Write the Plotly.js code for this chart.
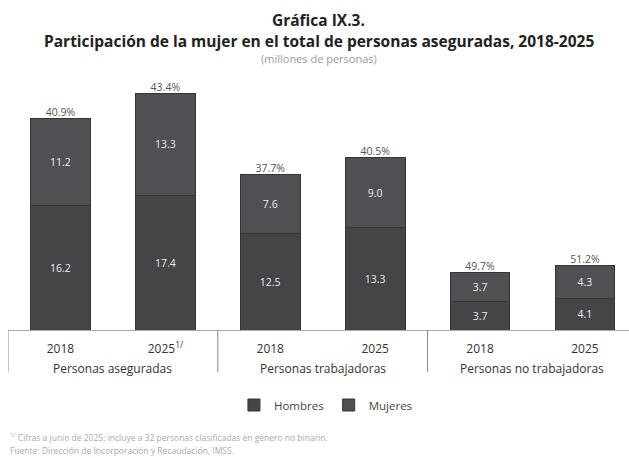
<!DOCTYPE html>
<html><head><meta charset="utf-8">
<script src="https://cdn.plot.ly/plotly-3.0.1.min.js"></script>
<style>html,body{margin:0;padding:0;background:#fff}#chart{width:629px;height:458px}</style>
</head><body><div id="chart"></div>
<script>
const groups = ["Personas aseguradas","Personas aseguradas","Personas trabajadoras","Personas trabajadoras","Personas no trabajadoras","Personas no trabajadoras"];
const years = ["2018","2025<sup>1/</sup>","2018","2025","2018","2025"];
const hombres = [16.2, 17.4, 12.5, 13.3, 3.7, 4.1];
const mujeres = [11.2, 13.3, 7.6, 9.0, 3.7, 4.3];
const pctMujeres = ["40.9%","43.4%","37.7%","40.5%","49.7%","51.2%"];

const totals = hombres.map((h,i)=>h+mujeres[i]);
const cats = groups.map((g,i)=>g+" | "+years[i]);
const F = "Open Sans, Liberation Sans, sans-serif";
const BASE = 330, TOP = 60;
const py = p => (BASE - p) / (BASE - TOP);

// group label positions and dividers derived from the category order
const uniq = [...new Set(groups)];
const groupAnn = uniq.map(g=>{
  const idx = groups.map((v,i)=>v===g?i:-1).filter(i=>i>=0);
  return {text:g, xref:"x", yref:"paper", x:(idx[0]+idx[idx.length-1])/2, y:py(368),
          xanchor:"center", yanchor:"middle", showarrow:false, font:{size:12, color:"#333", family:F}};
});
const dividers = uniq.map(g=>{
  const first = groups.indexOf(g);
  return {type:"line", xref:"x", yref:"paper", x0:first-0.5, x1:first-0.5, y0:0, y1:py(372),
          line:{color:"#888", width:1}};
});

const traces = [
  {type:"bar", name:"Hombres", x:cats, y:hombres,
   text:hombres.map(v=>v.toFixed(1)), textposition:"inside", insidetextanchor:"middle",
   textfont:{color:"#ececec", size:10.5, family:F},
   marker:{color:"#454548", line:{color:"#353537", width:1}}, hoverinfo:"skip"},
  {type:"bar", name:"Mujeres", x:cats, y:mujeres,
   text:mujeres.map(v=>v.toFixed(1)), textposition:"inside", insidetextanchor:"middle",
   textfont:{color:"#ececec", size:10.5, family:F},
   marker:{color:"#505054", line:{color:"#353537", width:1}}, hoverinfo:"skip"},
  {type:"scatter", mode:"text", x:cats, y:totals, text:pctMujeres,
   textposition:"top center", textfont:{color:"#555", size:10.5, family:F},
   showlegend:false, hoverinfo:"skip", cliponaxis:false}
];

const layout = {
  width:629, height:458,
  margin:{l:8, r:0, t:TOP, b:458-BASE},
  paper_bgcolor:"#fff", plot_bgcolor:"#fff",
  font:{family:F, color:"#333"},
  barmode:"stack", bargap:0.43,
  showlegend:true,
  legend:{orientation:"h", x:0.512, xanchor:"center", y:py(405), yanchor:"middle",
          font:{size:11.5, color:"#444", family:F}, itemwidth:30, traceorder:"normal"},
  xaxis:{type:"category", range:[-0.5,5.42], showline:true, linecolor:"#aaa", linewidth:1,
         tickmode:"array", tickvals:cats, ticktext:years, ticklabelstandoff:8,
         tickfont:{size:12, color:"#333", family:F}, fixedrange:true},
  yaxis:{range:[0,35], visible:false, showgrid:false, zeroline:false, fixedrange:true},
  shapes:dividers,
  annotations:[
    {text:"<b>Gráfica IX.3.</b>", xref:"paper", yref:"paper", x:0.5, y:py(20), xanchor:"center", yanchor:"middle",
     showarrow:false, font:{size:15.5, color:"#222", family:F}},
    {text:"<b>Participación de la mujer en el total de personas aseguradas, 2018-2025</b>", xref:"paper", yref:"paper",
     x:0.5, y:py(41), xanchor:"center", yanchor:"middle", showarrow:false, font:{size:15.5, color:"#222", family:F}},
    {text:"(millones de personas)", xref:"paper", yref:"paper", x:0.5, y:py(58), xanchor:"center", yanchor:"middle",
     showarrow:false, font:{size:11, color:"#999", family:F}},
    {text:"<sup>1/</sup> Cifras a junio de 2025; incluye a 32 personas clasificadas en género no binario.", xref:"paper", yref:"paper",
     x:0, y:py(437), xanchor:"left", yanchor:"middle", showarrow:false, font:{size:8.5, color:"#aaa", family:F}},
    {text:"Fuente: Dirección de Incorporación y Recaudación, IMSS.", xref:"paper", yref:"paper",
     x:0, y:py(450), xanchor:"left", yanchor:"middle", showarrow:false, font:{size:8.5, color:"#aaa", family:F}}
  ].concat(groupAnn)
};
Plotly.newPlot("chart", traces, layout, {displayModeBar:false, staticPlot:true});
</script></body></html>
